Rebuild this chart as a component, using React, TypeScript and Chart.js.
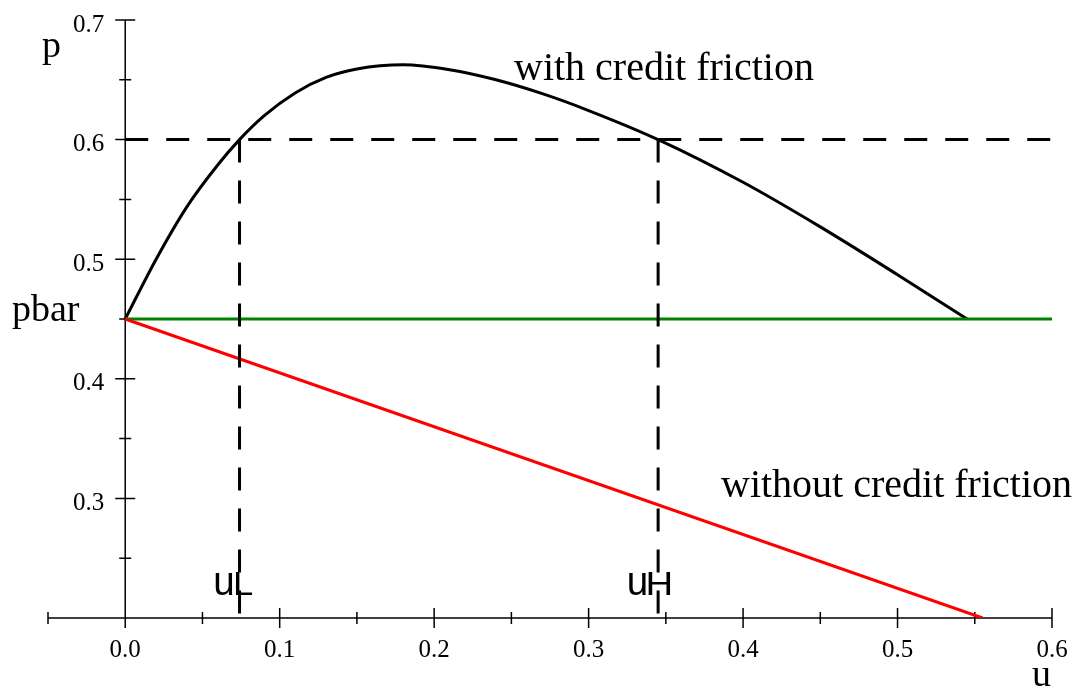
import React, { useEffect, useRef } from "react";
import { Chart, registerables } from "chart.js";

Chart.register(...registerables);

// ---- data ----
const withFrictionU = [0, 0.02, 0.04, 0.06, 0.074, 0.09, 0.11, 0.13, 0.15, 0.18, 0.21, 0.24, 0.27, 0.30, 0.345, 0.40, 0.45, 0.50, 0.545];
const withFrictionP = [0.45, 0.50, 0.544, 0.579, 0.600, 0.620, 0.639, 0.652, 0.659, 0.6625, 0.6584, 0.650, 0.6384, 0.6243, 0.600, 0.5643, 0.527, 0.487, 0.45];
const withoutFrictionU = [0, 0.555];
const withoutFrictionP = [0.45, 0.2];
const pbarU = [0, 0.6];
const pbar = 0.45;
const pTarget = 0.6;
const uL = 0.074;
const uH = 0.345;
const xMin = -0.05;
const xMax = 0.6;
const yMin = 0.2;
const yMax = 0.7;
const xMajorTicks = [0, 0.1, 0.2, 0.3, 0.4, 0.5, 0.6];
const xTickLabels = ["0.0", "0.1", "0.2", "0.3", "0.4", "0.5", "0.6"];
const xMinorTicks = [-0.05, 0.05, 0.15, 0.25, 0.35, 0.45, 0.55];
const yMajorTicks = [0.3, 0.4, 0.5, 0.6, 0.7];
const yTickLabels = ["0.3", "0.4", "0.5", "0.6", "0.7"];
const yMinorTicks = [0.25, 0.35, 0.45, 0.55, 0.65];

const pts = (xs: number[], ys: number[]) => xs.map((x, i) => ({ x, y: ys[i] }));

const SERIF = "'Liberation Serif', 'Times New Roman', serif";
const SANS = "'Liberation Sans', Arial, sans-serif";

// draw a glyph stretched to fit a box (left, base, width, height)
function drawFitted(ctx: CanvasRenderingContext2D, ch: string, left: number, base: number, w: number, h: number) {
  const m = ctx.measureText(ch);
  const gw = (m.actualBoundingBoxRight || 0) + (m.actualBoundingBoxLeft || 0) || m.width;
  const gh = m.actualBoundingBoxAscent || 20;
  const sx = w / gw;
  const sy = h / gh;
  ctx.save();
  ctx.translate(left + (m.actualBoundingBoxLeft || 0) * sx, base);
  ctx.scale(sx, sy);
  ctx.fillText(ch, 0, 0);
  ctx.restore();
}

const axesPlugin = {
  id: "customAxes",
  beforeDatasetsDraw(chart: any) {
    const { ctx, scales } = chart;
    const xs = scales.x;
    const ys = scales.y;
    const x0 = xs.getPixelForValue(0);
    const yAxisY = ys.getPixelForValue(yMin);
    ctx.save();
    ctx.strokeStyle = "#000";
    ctx.lineWidth = 1.5;
    ctx.beginPath();
    ctx.moveTo(xs.getPixelForValue(xMin), yAxisY);
    ctx.lineTo(xs.getPixelForValue(xMax), yAxisY);
    ctx.moveTo(x0, ys.getPixelForValue(yMax));
    ctx.lineTo(x0, yAxisY);
    xMajorTicks.forEach((v) => {
      const px = xs.getPixelForValue(v);
      ctx.moveTo(px, yAxisY - 10);
      ctx.lineTo(px, yAxisY + 10);
    });
    xMinorTicks.forEach((v) => {
      const px = xs.getPixelForValue(v);
      ctx.moveTo(px, yAxisY - 6);
      ctx.lineTo(px, yAxisY + 6);
    });
    yMajorTicks.forEach((v) => {
      const py = ys.getPixelForValue(v);
      ctx.moveTo(x0 - 10, py);
      ctx.lineTo(x0 + 10, py);
    });
    yMinorTicks.forEach((v) => {
      const py = ys.getPixelForValue(v);
      ctx.moveTo(x0 - 6, py);
      ctx.lineTo(x0 + 6, py);
    });
    ctx.stroke();

    ctx.fillStyle = "#000";
    ctx.font = `25px ${SERIF}`;
    ctx.textAlign = "center";
    ctx.textBaseline = "middle";
    xMajorTicks.forEach((v, i) => {
      ctx.fillText(xTickLabels[i], xs.getPixelForValue(v), yAxisY + 32);
    });
    ctx.textAlign = "right";
    yMajorTicks.forEach((v, i) => {
      ctx.fillText(yTickLabels[i], x0 - 21, ys.getPixelForValue(v) + 5);
    });
    ctx.restore();
  },
  afterDatasetsDraw(chart: any) {
    const { ctx, scales } = chart;
    const xs = scales.x;
    const ys = scales.y;
    ctx.save();
    ctx.fillStyle = "#000";
    ctx.textBaseline = "alphabetic";
    ctx.textAlign = "left";
    ctx.font = `38px ${SERIF}`;
    ctx.fillText("p", 42, 57);
    ctx.fillText("pbar", 12, ys.getPixelForValue(pbar) + 2);
    ctx.textAlign = "right";
    ctx.fillText("u", xs.getPixelForValue(xMax) - 1, 686);
    ctx.textAlign = "left";
    ctx.font = `40px ${SERIF}`;
    ctx.fillText("with credit friction", 514, 80);
    ctx.fillText("without credit friction", 721, 497);
    ctx.font = `30px ${SANS}`;
    const pxL = xs.getPixelForValue(uL);
    const pxH = xs.getPixelForValue(uH);
    drawFitted(ctx, "u", pxL - 25, 595, 18, 22);
    drawFitted(ctx, "L", pxL - 4, 595, 17, 22);
    drawFitted(ctx, "u", pxH - 30, 595, 18, 22);
    drawFitted(ctx, "H", pxH - 10, 595, 23, 22);
    ctx.restore();
  },
};

export default function App() {
  const ref = useRef<HTMLCanvasElement | null>(null);
  useEffect(() => {
    if (!ref.current) return;
    const dash = [23, 18];
    const chart = new Chart(ref.current, {
      type: "line",
      data: {
        datasets: [
          {
            data: pts([0, xMax], [pTarget, pTarget]),
            borderColor: "#000",
            borderWidth: 3,
            borderDash: dash,
            pointRadius: 0,
            fill: false,
          },
          {
            data: pts([uL, uL], [pTarget, yMin]),
            borderColor: "#000",
            borderWidth: 3,
            borderDash: dash,
            pointRadius: 0,
            fill: false,
          },
          {
            data: pts([uH, uH], [pTarget, yMin]),
            borderColor: "#000",
            borderWidth: 3,
            borderDash: dash,
            pointRadius: 0,
            fill: false,
          },
          {
            data: pts(withoutFrictionU, withoutFrictionP),
            borderColor: "#ff0000",
            borderWidth: 3,
            pointRadius: 0,
            fill: false,
          },
          {
            data: pts(pbarU, [pbar, pbar]),
            borderColor: "#008000",
            borderWidth: 3,
            pointRadius: 0,
            fill: false,
          },
          {
            data: pts(withFrictionU, withFrictionP),
            borderColor: "#000",
            borderWidth: 3,
            pointRadius: 0,
            fill: false,
            cubicInterpolationMode: "monotone",
          },
        ],
      },
      options: {
        animation: false,
        responsive: false,
        devicePixelRatio: 1,
        parsing: false as any,
        layout: { padding: { left: 48, right: 32, top: 20, bottom: 74 } },
        plugins: { legend: { display: false }, tooltip: { enabled: false }, title: { display: false } },
        scales: {
          x: { type: "linear", min: xMin, max: xMax, display: false },
          y: { type: "linear", min: yMin, max: yMax, display: false },
        },
        elements: { line: { borderCapStyle: "butt" } },
      } as any,
      plugins: [axesPlugin],
    });
    return () => chart.destroy();
  }, []);
  return (
    <div style={{ position: "fixed", left: 0, top: 0, width: 1084, height: 692, background: "#fff" }}>
      <canvas ref={ref} width={1084} height={692} style={{ width: 1084, height: 692, display: "block" }} />
    </div>
  );
}
